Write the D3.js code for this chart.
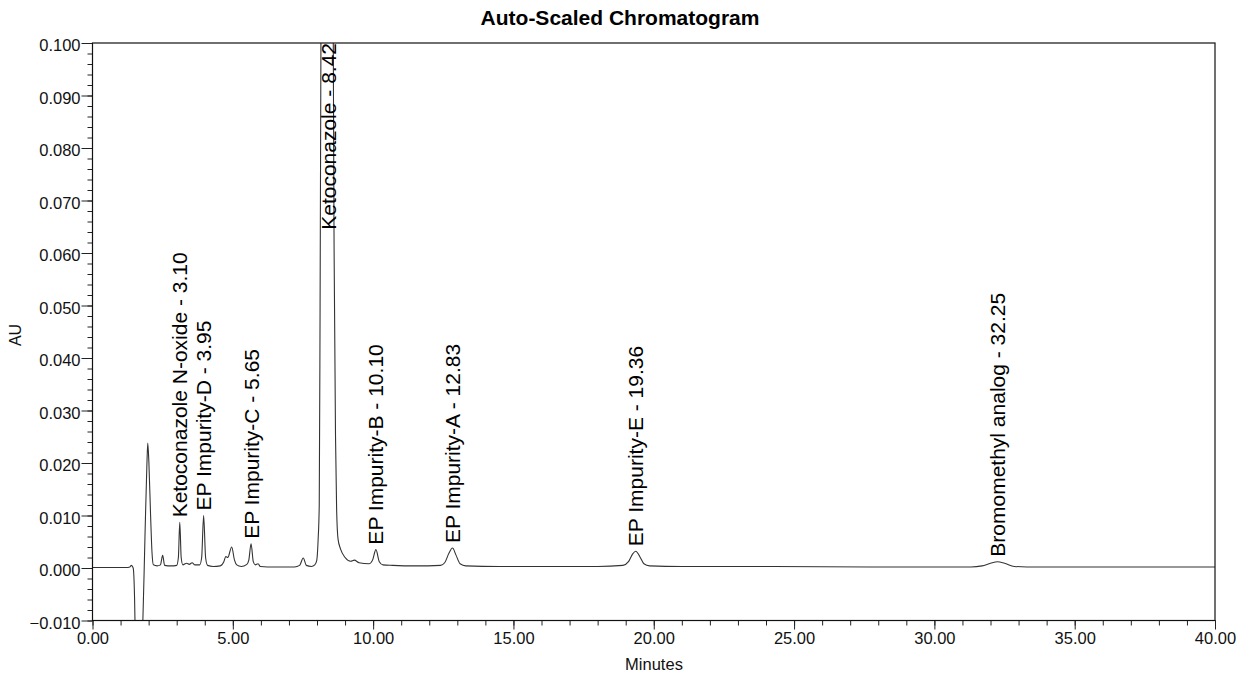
<!DOCTYPE html>
<html lang="en">
<head>
<meta charset="UTF-8">
<title>Auto-Scaled Chromatogram</title>
<script src="https://d3js.org/d3.v7.min.js"></script>
<style>
	body{margin:0;background:#fff}
	svg{display:block;font-family:"Liberation Sans",Arial,sans-serif}
	.tick text{fill:#111}
</style>
</head>
<body>
<svg id="chart" width="1251" height="679"></svg>
<script>
// trace: [minutes, AU]
var trace = [
	[0.00,0.0001],[1.20,0.0001],[1.33,0.0002],[1.38,0.0005],[1.45,0.0000],[1.50,-0.006],[1.53,-0.015],
	[1.62,-0.030],[1.72,-0.018],[1.79,-0.011],[1.87,0.006],[1.94,0.020],[1.97,0.0238],[2.01,0.020],
	[2.07,0.010],[2.12,0.003],[2.17,0.0006],[2.30,0.0004],[2.42,0.0006],[2.50,0.0024],[2.57,0.0005],
	[2.80,0.0004],[3.00,0.0005],[3.06,0.002],[3.11,0.0087],[3.16,0.002],[3.22,0.0006],[3.35,0.0009],
	[3.45,0.0007],[3.55,0.0010],[3.65,0.0006],[3.82,0.0006],[3.89,0.002],[3.96,0.0100],[4.03,0.002],
	[4.10,0.0005],[4.30,0.0003],[4.55,0.0004],[4.68,0.0012],[4.75,0.0022],[4.82,0.0020],[4.96,0.0040],
	[5.06,0.0015],[5.14,0.0006],[5.30,0.0003],[5.50,0.0007],[5.57,0.0015],[5.65,0.0046],[5.73,0.0012],
	[5.80,0.0006],[5.90,0.0008],[5.98,0.0003],[6.50,0.0002],[7.20,0.0002],[7.38,0.0005],[7.51,0.0019],
	[7.62,0.0005],[7.80,0.0003],[7.92,0.0006],[7.99,0.0014],[8.04,0.0054],[8.08,0.012],[8.11,0.050],
	[8.14,0.100],[8.20,0.220],[8.30,0.330],[8.42,0.380],[8.52,0.300],[8.58,0.100],[8.61,0.060],
	[8.66,0.025],[8.70,0.011],[8.75,0.0055],[8.84,0.0036],[9.00,0.0020],[9.20,0.0013],[9.33,0.0015],
	[9.50,0.0010],[9.85,0.0008],[9.98,0.0015],[10.10,0.0035],[10.22,0.0012],[10.35,0.0006],
	[10.70,0.0005],[11.50,0.0004],[12.40,0.0005],[12.55,0.0010],[12.70,0.0028],[12.83,0.0038],
	[12.95,0.0025],[13.10,0.0008],[13.30,0.0004],[14.50,0.0003],[16.00,0.0003],[18.00,0.0003],
	[18.90,0.0005],[19.10,0.0012],[19.25,0.0027],[19.36,0.0032],[19.50,0.0022],[19.65,0.0008],
	[19.85,0.0004],[21.00,0.0003],[24.00,0.0003],[28.00,0.0002],[31.30,0.0002],[31.70,0.0004],
	[32.00,0.0009],[32.25,0.0012],[32.50,0.0009],[32.85,0.0003],[33.30,0.0002],[36.00,0.0002],
	[40.00,0.0002]
];

var peakNames = ["Ketoconazole N-oxide","EP Impurity-D","EP Impurity-C","Ketoconazole",
	"EP Impurity-B","EP Impurity-A","EP Impurity-E","Bromomethyl analog"];
var peakTimes = [3.10,3.95,5.65,8.42,10.10,12.83,19.36,32.25];

var xTicks = [0,5,10,15,20,25,30,35,40];
var yTicks = [-0.010,0.000,0.010,0.020,0.030,0.040,0.050,0.060,0.070,0.080,0.090,0.100];

var svg = d3.select("#chart");
var mLeft = 92.5, mRight = 1215, mTop = 43, mBottom = 620.5;

var x = d3.scaleLinear().domain([0,40]).range([mLeft,mRight]);
var y = d3.scaleLinear().domain([-0.010,0.100]).range([mBottom,mTop]);

// title
svg.append("text").attr("x",620).attr("y",25).attr("text-anchor","middle")
	.attr("font-size","21px").attr("font-weight","bold").text("Auto-Scaled Chromatogram");

// trace
svg.append("clipPath").attr("id","plotclip").append("rect")
	.attr("x",mLeft).attr("y",mTop).attr("width",mRight-mLeft).attr("height",mBottom-mTop);

var line = d3.line().x(function(d){return x(d[0])}).y(function(d){return y(d[1])}).curve(d3.curveMonotoneX);
svg.append("path").datum(trace).attr("clip-path","url(#plotclip)")
	.attr("d",line).attr("fill","none").attr("stroke","#333").attr("stroke-width",1.1);

// minor ticks
svg.append("g").attr("transform","translate(0,"+mBottom+")")
	.call(d3.axisBottom(x).tickValues(d3.range(0,41,1)).tickSize(5).tickFormat(""))
	.call(function(g){g.select(".domain").remove()});
svg.append("g").attr("transform","translate("+mLeft+",0)")
	.call(d3.axisLeft(y).tickValues(d3.range(-10,101,2).map(function(v){return v/1000})).tickSize(5).tickFormat(""))
	.call(function(g){g.select(".domain").remove()});

// major ticks + labels
var xa = svg.append("g").attr("transform","translate(0,"+mBottom+")")
	.call(d3.axisBottom(x).tickValues(xTicks).tickSize(9).tickPadding(3).tickFormat(d3.format(".2f")));
xa.select(".domain").remove();
xa.selectAll("text").attr("font-size","16.5px").attr("font-family",null);

var ya = svg.append("g").attr("transform","translate("+mLeft+",0)")
	.call(d3.axisLeft(y).tickValues(yTicks).tickSize(11).tickPadding(1).tickFormat(d3.format(".3f")));
ya.select(".domain").remove();
ya.selectAll("text").attr("font-size","16.5px").attr("font-family",null).attr("dy","0.47em");

svg.selectAll(".tick line").attr("stroke","#222");

// frame
svg.append("rect").attr("x",mLeft).attr("y",mTop).attr("width",mRight-mLeft).attr("height",mBottom-mTop)
	.attr("fill","none").attr("stroke","#111").attr("stroke-width",1.2);

// axis titles
svg.append("text").attr("transform","translate(21,335) rotate(-90)").attr("text-anchor","middle")
	.attr("font-size","16px").attr("fill","#111").text("AU");
svg.append("text").attr("x",654).attr("y",670).attr("text-anchor","middle")
	.attr("font-size","16.5px").attr("fill","#111").text("Minutes");

// peak labels
peakNames.forEach(function(name,i){
	var t = peakTimes[i];
	var apex = d3.max(trace.filter(function(d){return Math.abs(d[0]-t)<0.12}),function(d){return d[1]});
	var lab = svg.append("text").attr("text-anchor","start").attr("font-size","21px").attr("fill","#000")
		.attr("dy","0.36em").text(name+" - "+d3.format(".2f")(t));
	var len = lab.node().getComputedTextLength();
	var ys = Math.max(y(Math.min(apex,0.1))-5, mTop+len);
	lab.attr("transform","translate("+x(t)+","+ys+") rotate(-90)");
});
</script>
</body>
</html>
